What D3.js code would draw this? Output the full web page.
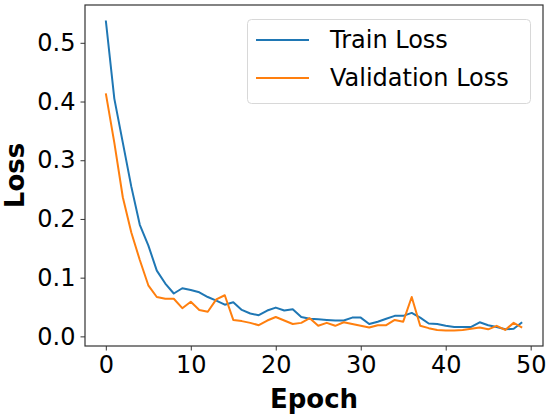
<!DOCTYPE html>
<html>
<head>
<meta charset="utf-8">
<script src="https://cdn.jsdelivr.net/npm/d3@7"></script>
<style>
  body { margin: 0; background: #fff; }
  svg { display: block; font-family: "DejaVu Sans", sans-serif; }
</style>
</head>
<body>
<svg id="chart" width="550" height="418"></svg>
<script>
// Loss values per epoch
const epochs = d3.range(0, 50);
const trainLoss = [
    0.538, 0.405, 0.330, 0.255, 0.190, 0.155, 0.112, 0.090, 0.073, 0.082,
    0.079, 0.075, 0.067, 0.061, 0.054, 0.058, 0.045, 0.039, 0.036, 0.044,
    0.049, 0.044, 0.046, 0.033, 0.030, 0.029, 0.028, 0.027, 0.027, 0.032,
    0.032, 0.021, 0.025, 0.030, 0.035, 0.035, 0.040, 0.032, 0.022, 0.021,
    0.018, 0.016, 0.016, 0.016, 0.024, 0.019, 0.016, 0.012, 0.013, 0.024
];
const valLoss = [
    0.414, 0.330, 0.237, 0.177, 0.130, 0.087, 0.067, 0.064, 0.064, 0.048,
    0.059, 0.045, 0.042, 0.063, 0.070, 0.028, 0.026, 0.023, 0.019, 0.027,
    0.033, 0.027, 0.021, 0.023, 0.031, 0.018, 0.023, 0.018, 0.024, 0.021,
    0.018, 0.015, 0.019, 0.019, 0.028, 0.025, 0.067, 0.018, 0.014, 0.011,
    0.010, 0.010, 0.011, 0.013, 0.015, 0.012, 0.018, 0.011, 0.023, 0.015
];
const xTicks = [0, 10, 20, 30, 40, 50];
const yTicks = [0.0, 0.1, 0.2, 0.3, 0.4, 0.5];
const seriesNames = ["Train Loss", "Validation Loss"];
const seriesColors = ["#1f77b4", "#ff7f0e"];

const svg = d3.select("#chart");
const plotLeft = 85, plotRight = 543, plotTop = 5, plotBottom = 346;

// matplotlib style 5% margins around the data
const allVals = trainLoss.concat(valLoss);
const yMin = d3.min(allVals), yMax = d3.max(allVals);
const yPad = (yMax - yMin) * 0.05;
const xPad = (d3.max(epochs) - d3.min(epochs)) * 0.05;

const x = d3.scaleLinear()
    .domain([d3.min(epochs) - xPad, d3.max(epochs) + xPad])
    .range([plotLeft, plotRight]);
const y = d3.scaleLinear()
    .domain([yMin - yPad, yMax + yPad])
    .range([plotBottom, plotTop]);

// Axes
const xAxis = d3.axisBottom(x).tickValues(xTicks).tickSize(4.5).tickPadding(5).tickFormat(d3.format("d"));
const yAxis = d3.axisLeft(y).tickValues(yTicks).tickSize(4.5).tickPadding(5).tickFormat(d3.format(".1f"));

const gx = svg.append("g")
    .attr("transform", `translate(0, ${plotBottom})`)
    .call(xAxis);
const gy = svg.append("g")
    .attr("transform", `translate(${plotLeft}, 0)`)
    .call(yAxis);

[gx, gy].forEach(g => {
    g.select(".domain").remove();
    g.selectAll(".tick line").attr("stroke", "#333").attr("stroke-width", 1);
    g.selectAll(".tick text")
        .attr("font-family", "DejaVu Sans")
        .attr("font-size", "24px")
        .attr("fill", "#000");
});

// Lines
const lineGen = d3.line()
    .x((d, i) => x(epochs[i]))
    .y(d => y(d));

[trainLoss, valLoss].forEach((vals, i) => {
    svg.append("path")
        .attr("fill", "none")
        .attr("stroke", seriesColors[i])
        .attr("stroke-width", 2)
        .attr("stroke-linejoin", "round")
        .attr("d", lineGen(vals));
});

// Frame
svg.append("rect")
    .attr("x", plotLeft)
    .attr("y", plotTop)
    .attr("width", plotRight - plotLeft)
    .attr("height", plotBottom - plotTop)
    .attr("fill", "none")
    .attr("stroke", "#333")
    .attr("stroke-width", 1.2);

// Axis labels
svg.append("text")
    .attr("x", (plotLeft + plotRight) / 2)
    .attr("y", 408)
    .attr("text-anchor", "middle")
    .attr("font-family", "DejaVu Sans")
    .attr("font-weight", "bold")
    .attr("font-size", "26px")
    .text("Epoch");

svg.append("text")
    .attr("transform", "rotate(-90)")
    .attr("x", -(plotTop + plotBottom) / 2)
    .attr("y", 24)
    .attr("text-anchor", "middle")
    .attr("font-family", "DejaVu Sans")
    .attr("font-weight", "bold")
    .attr("font-size", "26px")
    .text("Loss");

// Legend
const legend = svg.append("g");
legend.append("rect")
    .attr("x", 247.5)
    .attr("y", 19.5)
    .attr("width", 283)
    .attr("height", 84)
    .attr("rx", 4)
    .attr("fill", "#fff")
    .attr("fill-opacity", 0.8)
    .attr("stroke", "#d8d8d8")
    .attr("stroke-width", 1);

seriesNames.forEach((name, i) => {
    const ly = 40 + i * 38;
    legend.append("line")
        .attr("x1", 256).attr("x2", 309)
        .attr("y1", ly).attr("y2", ly)
        .attr("stroke", seriesColors[i])
        .attr("stroke-width", 2);
    legend.append("text")
        .attr("x", 330)
        .attr("y", ly)
        .attr("dy", "0.35em")
        .attr("font-family", "DejaVu Sans")
        .attr("font-size", "24px")
        .text(name);
});
</script>
</body>
</html>
